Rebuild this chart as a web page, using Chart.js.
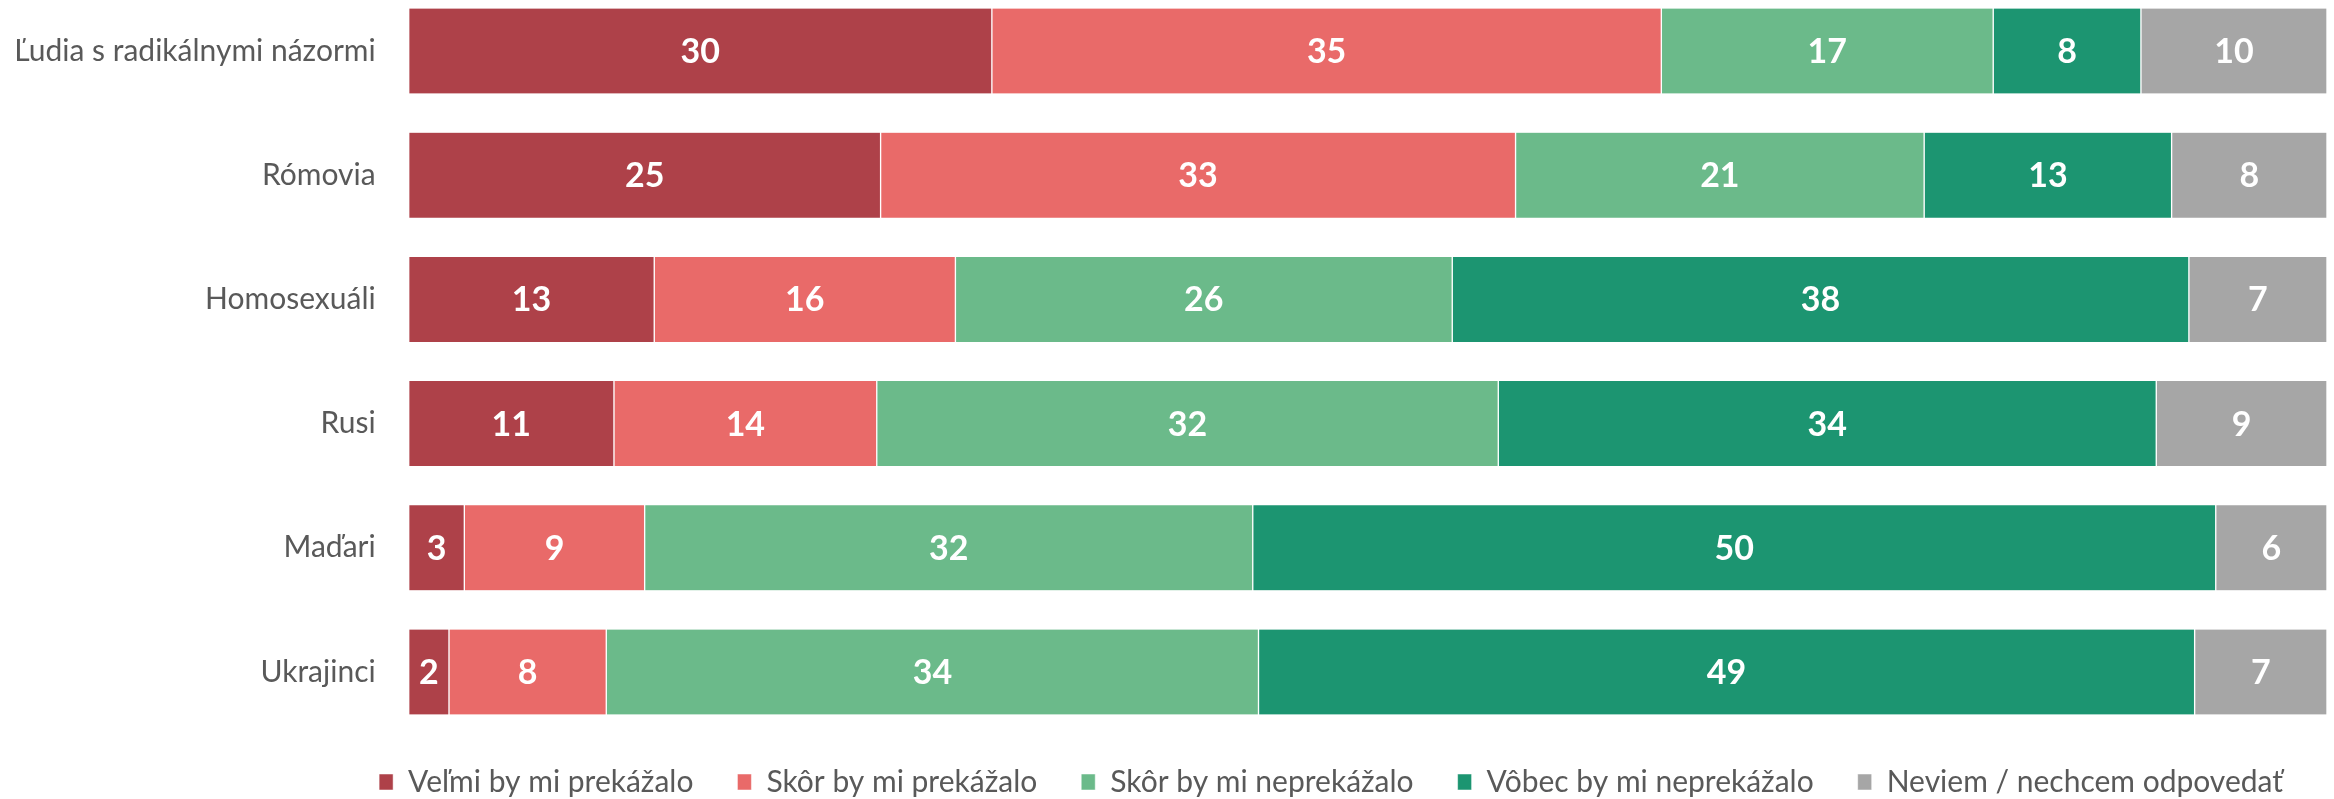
<!DOCTYPE html>
<html>
<head>
<meta charset="utf-8">
<script src="https://cdn.jsdelivr.net/npm/chart.js@4.4.1/dist/chart.umd.min.js"></script>
<style>
    html, body { margin: 0; padding: 0; background: #fff; }
    #wrap { width: 2334px; height: 799px; position: relative; }
</style>
</head>
<body>
<div id="wrap"><canvas id="chart"></canvas></div>
<script>
const categories = ["Ľudia s radikálnymi názormi", "Rómovia", "Homosexuáli", "Rusi", "Maďari", "Ukrajinci"];
const seriesNames = ["Veľmi by mi prekážalo", "Skôr by mi prekážalo", "Skôr by mi neprekážalo", "Vôbec by mi neprekážalo", "Neviem / nechcem odpovedať"];
// shares in %, segments shown rounded
const veryBothered = [30.4, 24.6, 12.8, 10.7, 2.9, 2.1];
const ratherBothered = [34.9, 33.1, 15.7, 13.7, 9.4, 8.2];
const ratherNotBothered = [17.3, 21.3, 25.9, 32.4, 31.7, 34.0];
const notAtAll = [7.7, 12.9, 38.4, 34.3, 50.2, 48.8];
const dontKnow = [9.7, 8.1, 7.2, 8.9, 5.8, 6.9];
const seriesColors = ["#AE4149", "#E96A69", "#6BBA8A", "#1C9571", "#A6A6A6"];

const textGray = "#595959";
Chart.defaults.font.family = "Lato, 'Open Sans', sans-serif";

// white value in the middle of every segment
const barLabels = {
    id: "barLabels",
    afterDatasetsDraw: function (chart) {
        const ctx = chart.ctx;
        ctx.save();
        ctx.font = "bold 34px Lato";
        ctx.fillStyle = "#fff";
        ctx.textAlign = "center";
        ctx.textBaseline = "middle";
        chart.data.datasets.forEach(function (ds, i) {
            chart.getDatasetMeta(i).data.forEach(function (bar, j) {
                ctx.fillText(Math.round(ds.data[j]), (bar.x + bar.base) / 2, bar.y + 1);
            });
        });
        ctx.restore();
    }
};

function makeDataset(idx, values) {
    return {
        label: seriesNames[idx],
        data: values,
        backgroundColor: seriesColors[idx],
        borderColor: "#fff",
        borderWidth: {left: 1, right: 1, top: 0, bottom: 0},
        borderSkipped: false,
        barThickness: 85,
        clip: false
    };
}

new Chart(document.getElementById("chart"), {
    type: "bar",
    data: {
        labels: categories,
        datasets: [
            makeDataset(0, veryBothered),
            makeDataset(1, ratherBothered),
            makeDataset(2, ratherNotBothered),
            makeDataset(3, notAtAll),
            makeDataset(4, dontKnow)
        ]
    },
    options: {
        indexAxis: "y",
        responsive: true,
        maintainAspectRatio: false,
        animation: false,
        layout: {padding: {top: 49, right: 7, bottom: -8, left: 0}},
        scales: {
            x: {
                stacked: true,
                min: 0,
                max: 100,
                grid: {display: false, drawTicks: false},
                border: {display: false},
                ticks: {display: false},
                afterFit: function (scale) { scale.height = 51; }
            },
            y: {
                stacked: true,
                offset: false,
                grid: {display: false, drawTicks: false},
                border: {display: false},
                ticks: {color: textGray, padding: 33, font: {size: 30}},
                afterFit: function (scale) { scale.width = 408.7; }
            }
        },
        plugins: {
            legend: {
                position: "bottom",
                align: "end",
                labels: {
                    color: textGray,
                    font: {size: 30},
                    boxWidth: 14,
                    boxHeight: 16,
                    padding: 44
                }
            },
            tooltip: {enabled: false}
        }
    },
    plugins: [barLabels]
});
</script>
</body>
</html>
